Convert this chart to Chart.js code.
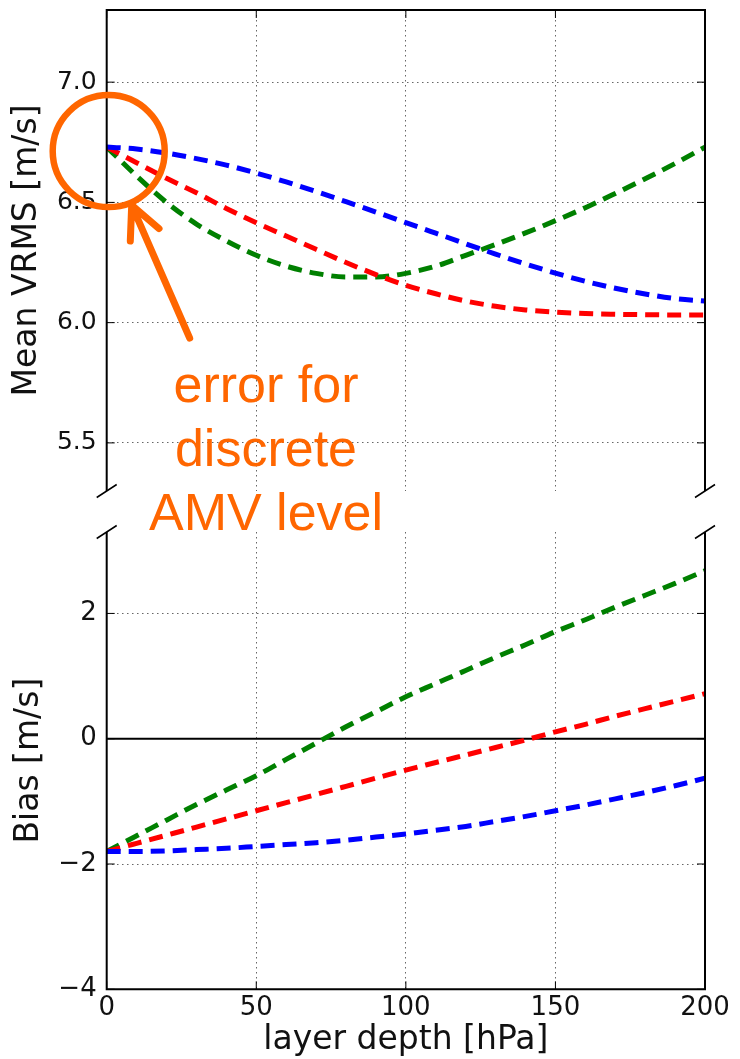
<!DOCTYPE html>
<html>
<head>
<meta charset="utf-8">
<script src="https://cdn.jsdelivr.net/npm/chart.js@4.4.1/dist/chart.umd.min.js"></script>
<style>
  body { margin: 0; background: #fff; width: 740px; height: 1059px; overflow: hidden; position: relative; }
  canvas { position: absolute; left: 0; }
  #topChart { top: 0; }
  #bottomChart { top: 505px; }
  #note {
    position: absolute; left: 136px; top: 352px; width: 260px;
    text-align: center; color: #ff6600; z-index: 2;
    font: 52px "Liberation Sans", Arial, sans-serif; line-height: 64px;
  }
</style>
</head>
<body>
<canvas id="topChart" width="740" height="505"></canvas>
<canvas id="bottomChart" width="740" height="554"></canvas>
<div id="note">error for<br>discrete<br>AMV level</div>
<script>
// layer depth [hPa]
const depth = [0, 10, 20, 30, 40, 50, 60, 70, 80, 90, 100, 110, 120, 130, 140, 150, 160, 170, 180, 190, 200];

// mean VRMS [m/s]
const vrmsBlue  = [6.73, 6.722, 6.705, 6.682, 6.655, 6.622, 6.585, 6.545, 6.503, 6.46, 6.416, 6.372, 6.328, 6.285, 6.244, 6.206, 6.172, 6.143, 6.119, 6.10, 6.09];
const vrmsRed   = [6.73, 6.665, 6.60, 6.54, 6.475, 6.415, 6.36, 6.305, 6.25, 6.20, 6.155, 6.12, 6.09, 6.068, 6.053, 6.044, 6.038, 6.035, 6.033, 6.032, 6.032];
const vrmsGreen = [6.73, 6.61, 6.50, 6.41, 6.34, 6.28, 6.235, 6.205, 6.19, 6.19, 6.205, 6.235, 6.28, 6.325, 6.373, 6.424, 6.478, 6.537, 6.598, 6.662, 6.73];

// bias [m/s]
const biasBlue  = [-1.80, -1.80, -1.79, -1.77, -1.75, -1.72, -1.69, -1.66, -1.62, -1.57, -1.52, -1.46, -1.40, -1.32, -1.24, -1.15, -1.06, -0.96, -0.86, -0.75, -0.63];
const biasRed   = [-1.80, -1.67, -1.54, -1.41, -1.28, -1.15, -1.02, -0.89, -0.76, -0.63, -0.50, -0.38, -0.26, -0.14, -0.02, 0.11, 0.23, 0.36, 0.48, 0.60, 0.72];
const biasGreen = [-1.80, -1.55, -1.30, -1.05, -0.82, -0.59, -0.33, -0.07, 0.19, 0.43, 0.67, 0.88, 1.09, 1.30, 1.50, 1.71, 1.90, 2.10, 2.29, 2.48, 2.68];

const depthTicks = [0, 50, 100, 150, 200];
const vrmsTicks = [5.5, 6.0, 6.5, 7.0];
const biasTicks = [-4, -2, 0, 2];

const orange = '#ff6600';
Chart.defaults.font.family = '"DejaVu Sans", sans-serif';
Chart.defaults.color = '#111';

function line(ys, color) {
  return {
    data: depth.map((d, i) => ({ x: d, y: ys[i] })),
    borderColor: color,
    borderWidth: 5,
    borderDash: [14, 8],
    pointRadius: 0,
    fill: false,
    cubicInterpolationMode: 'monotone'
  };
}

const gridStyle = { color: '#666', lineWidth: 1, drawTicks: false };
const dotted = { display: false, dash: [1.5, 3.5] };

// fixed axis boxes, no label overflow padding
function fixWidth(w) {
  return s => { s.width = w; s.paddingTop = 0; s.paddingBottom = 0; };
}
function fixHeight(h) {
  return s => { s.height = h; s.paddingLeft = 0; s.paddingRight = 0; };
}

// spines, broken-axis marks, inward ticks, zero line
const axisFrame = {
  id: 'axisFrame',
  beforeDatasetsDraw(chart, args, o) {
    if (!o.zero) return;
    const { ctx, chartArea: a, scales: { y } } = chart;
    const y0 = y.getPixelForValue(0);
    ctx.save();
    ctx.strokeStyle = '#000';
    ctx.lineWidth = 2;
    ctx.beginPath();
    ctx.moveTo(a.left, y0);
    ctx.lineTo(a.right, y0);
    ctx.stroke();
    ctx.restore();
  },
  afterDraw(chart, args, o) {
    const { ctx, chartArea: a, scales: { x, y } } = chart;
    const closed = o.open === 'bottom' ? a.top : a.bottom;
    const open = o.open === 'bottom' ? a.bottom : a.top;
    ctx.save();
    ctx.strokeStyle = '#000';
    ctx.lineWidth = 2;
    ctx.beginPath();
    ctx.moveTo(a.left, a.top); ctx.lineTo(a.left, a.bottom);
    ctx.moveTo(a.right, a.top); ctx.lineTo(a.right, a.bottom);
    ctx.moveTo(a.left - 1, closed); ctx.lineTo(a.right + 1, closed);
    ctx.stroke();

    ctx.lineWidth = 1.5;
    ctx.beginPath();
    [a.left, a.right].forEach(bx => {
      ctx.moveTo(bx - 10, open + 6.5);
      ctx.lineTo(bx + 10, open - 6.5);
    });
    ctx.stroke();

    ctx.lineWidth = 1;
    ctx.beginPath();
    y.ticks.forEach(t => {
      const py = y.getPixelForValue(t.value);
      ctx.moveTo(a.left, py); ctx.lineTo(a.left + 8, py);
      ctx.moveTo(a.right - 8, py); ctx.lineTo(a.right, py);
    });
    const dir = closed === a.top ? 1 : -1;
    x.ticks.forEach(t => {
      const px = x.getPixelForValue(t.value);
      ctx.moveTo(px, closed); ctx.lineTo(px, closed + dir * 8);
    });
    ctx.stroke();
    ctx.restore();
  }
};

// circle + arrow pointing at the discrete AMV level value
const marker = {
  id: 'marker',
  afterDraw(chart) {
    const { ctx, scales: { x, y } } = chart;
    const cx = x.getPixelForValue(depth[0]) + 2;
    const cy = y.getPixelForValue(vrmsBlue[0]) + 4;
    ctx.save();
    ctx.strokeStyle = orange;
    ctx.lineCap = 'round';
    ctx.lineWidth = 6.5;
    ctx.beginPath();
    ctx.arc(cx, cy, 56, 0, Math.PI * 2);
    ctx.stroke();

    const tipX = cx + 23, tipY = cy + 54;
    const tailX = cx + 81, tailY = cy + 187;
    const ang = Math.atan2(tailY - tipY, tailX - tipX);
    ctx.lineWidth = 7;
    ctx.beginPath();
    ctx.moveTo(tailX, tailY);
    ctx.lineTo(tipX, tipY);
    [-0.45, 0.45].forEach(d => {
      ctx.moveTo(tipX, tipY);
      ctx.lineTo(tipX + 36 * Math.cos(ang + d), tipY + 36 * Math.sin(ang + d));
    });
    ctx.stroke();
    ctx.restore();
  }
};

const common = {
  responsive: false,
  animation: false,
  events: [],
  plugins: { legend: { display: false }, tooltip: { enabled: false } }
};

new Chart(document.getElementById('topChart'), {
  type: 'line',
  data: { datasets: [line(vrmsBlue, '#0000ff'), line(vrmsRed, '#ff0000'), line(vrmsGreen, '#008000')] },
  options: {
    ...common,
    layout: { padding: { left: 0, right: 35, top: 10, bottom: 0 } },
    plugins: { ...common.plugins, axisFrame: { open: 'bottom' } },
    scales: {
      x: {
        type: 'linear', min: 0, max: 200,
        afterBuildTicks: s => { s.ticks = depthTicks.map(v => ({ value: v })); },
        afterFit: fixHeight(14),
        ticks: { display: false },
        grid: gridStyle,
        border: dotted
      },
      y: {
        min: 5.3, max: 7.3,
        afterBuildTicks: s => { s.ticks = vrmsTicks.map(v => ({ value: v })); },
        afterFit: fixWidth(106.7),
        ticks: { padding: 10, font: { size: 25 }, callback: v => v.toFixed(1) },
        grid: gridStyle,
        border: dotted,
        title: { display: true, text: 'Mean VRMS [m/s]', font: { size: 33 }, padding: { top: 8, bottom: 0 } }
      }
    }
  },
  plugins: [axisFrame, marker]
});

new Chart(document.getElementById('bottomChart'), {
  type: 'line',
  data: { datasets: [line(biasBlue, '#0000ff'), line(biasRed, '#ff0000'), line(biasGreen, '#008000')] },
  options: {
    ...common,
    layout: { padding: { left: 0, right: 35, top: 27, bottom: 0 } },
    plugins: { ...common.plugins, axisFrame: { open: 'top', zero: true } },
    scales: {
      x: {
        type: 'linear', min: 0, max: 200,
        afterBuildTicks: s => { s.ticks = depthTicks.map(v => ({ value: v })); },
        afterFit: fixHeight(69.7),
        ticks: { padding: 3, font: { size: 26 } },
        grid: gridStyle,
        border: dotted,
        title: { display: true, text: 'layer depth [hPa]', font: { size: 33, lineHeight: 1 }, padding: { top: 0, bottom: 2.5 } }
      },
      y: {
        min: -4, max: 3.3,
        afterBuildTicks: s => { s.ticks = biasTicks.map(v => ({ value: v })); },
        afterFit: fixWidth(106.7),
        ticks: { padding: 10, font: { size: 26 }, callback: v => v < 0 ? '\u2212' + Math.abs(v) : String(v) },
        grid: gridStyle,
        border: dotted,
        title: { display: true, text: 'Bias [m/s]', font: { size: 33 }, padding: { top: 10, bottom: 0 } }
      }
    }
  },
  plugins: [axisFrame]
});
</script>
</body>
</html>
